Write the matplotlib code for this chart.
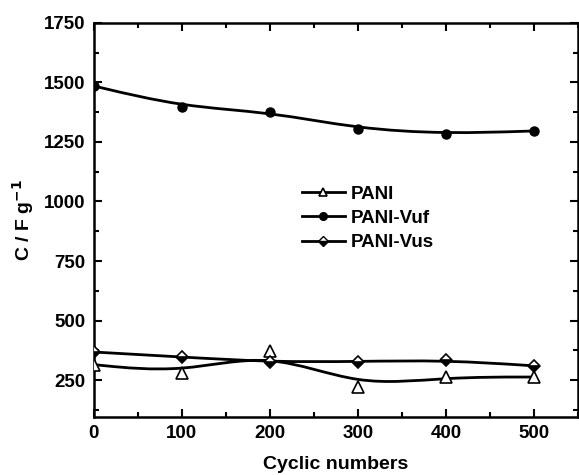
import numpy as np
import matplotlib
matplotlib.use("Agg")
import matplotlib.pyplot as plt
from matplotlib.path import Path
from matplotlib.patches import PathPatch
from matplotlib.ticker import MultipleLocator

plt.rcParams['font.family'] = ['Liberation Sans', 'DejaVu Sans']
plt.rcParams['font.weight'] = 'bold'

cycles = [0, 100, 200, 300, 400, 500]
pani = [315, 279, 372, 221, 263, 263]
pani_vuf = [1485, 1397, 1376, 1305, 1284, 1296]
pani_vus = [368, 347, 326, 328, 334, 310]


def bspline_path(x, y):
    # cubic B-spline (Origin style), endpoints repeated so it starts/ends on data
    p = np.column_stack([x, y]).astype(float)
    p = np.vstack([p[0], p[0], p, p[-1], p[-1]])
    verts = []
    codes = []
    for i in range(1, len(p) - 2):
        a, b, c, d = p[i - 1], p[i], p[i + 1], p[i + 2]
        start = (a + 4 * b + c) / 6
        c1 = (2 * b + c) / 3
        c2 = (b + 2 * c) / 3
        end = (b + 4 * c + d) / 6
        if not verts:
            verts.append(start)
            codes.append(Path.MOVETO)
        verts += [c1, c2, end]
        codes += [Path.CURVE4] * 3
    return Path(verts, codes)


fig = plt.figure(figsize=(5.79, 4.75), dpi=100)
ax = fig.add_axes([0.162, 0.122, 0.836, 0.830])

for ys in [pani, pani_vuf, pani_vus]:
    ax.add_patch(PathPatch(bspline_path(cycles, ys), fill=False, lw=2, ec='black', zorder=2))

ax.plot(cycles, pani, ls='none', marker='^', ms=8, mfc='white', mec='black', mew=1.2, zorder=3)
ax.plot(cycles, pani_vuf, ls='none', marker='o', ms=6.5, mfc='black', mec='black', zorder=3)
ax.plot(cycles, pani_vus, ls='none', marker='D', ms=6, mfc='black', mec='black',
        fillstyle='bottom', markerfacecoloralt='white', mew=1.2, zorder=3)

# legend handles
h1, = ax.plot([], [], color='black', lw=2, marker='^', ms=6, mfc='white', mec='black', mew=1.2)
h2, = ax.plot([], [], color='black', lw=2, marker='o', ms=5.5, mfc='black')
h3, = ax.plot([], [], color='black', lw=2, marker='D', ms=5, mfc='black',
              fillstyle='bottom', markerfacecoloralt='white')
ax.legend([h1, h2, h3], ['PANI', 'PANI-Vuf', 'PANI-Vus'], frameon=False,
          loc='upper left', bbox_to_anchor=(0.395, 0.63), handlelength=2.3,
          handletextpad=0.3, labelspacing=0.38, prop={'weight': 'bold', 'size': 13.5})

ax.set_xlim(0, 550)
ax.set_ylim(95, 1750)
ax.set_xticks(cycles)
ax.set_yticks([250, 500, 750, 1000, 1250, 1500, 1750])
ax.xaxis.set_minor_locator(MultipleLocator(50))
ax.yaxis.set_minor_locator(MultipleLocator(125))
ax.tick_params(which='both', direction='in', top=True, right=True, width=1.5)
ax.tick_params(which='major', length=6, labelsize=13.5, pad=6)
ax.tick_params(which='minor', length=3.5)
for lab in ax.get_xticklabels() + ax.get_yticklabels():
    lab.set_fontweight('bold')
for s in ax.spines.values():
    s.set_linewidth(1.8)

ax.set_xlabel('Cyclic numbers', fontsize=14, fontweight='bold', labelpad=10)
ax.set_ylabel('C / F g$^{\\mathbf{-1}}$', fontsize=14, fontweight='bold', labelpad=6)

fig.savefig('out.png', dpi=100)
